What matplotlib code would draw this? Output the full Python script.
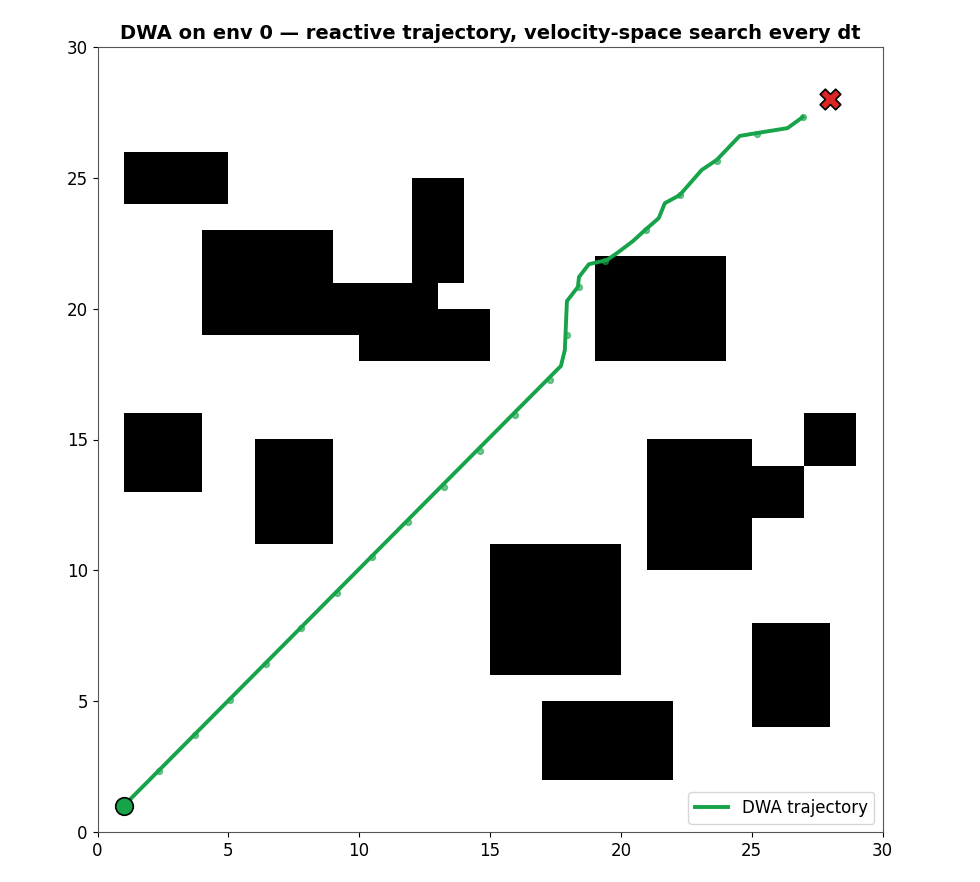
import matplotlib
matplotlib.use("Agg")
import matplotlib.pyplot as plt

GRID_SIZE = 30

# obstacles as (x, y, width, height) in grid cells
OBSTACLES = [
    (1, 24, 4, 2), (4, 19, 5, 4), (9, 19, 4, 2), (12, 21, 2, 4),
    (10, 18, 5, 2), (19, 18, 5, 4), (1, 13, 3, 3), (6, 11, 3, 4),
    (21, 10, 4, 5), (25, 12, 2, 2), (27, 14, 2, 2), (15, 6, 5, 5),
    (17, 2, 5, 3), (25, 4, 3, 4),
]

START = (1, 1)
GOAL = (28, 28)

path_x = [1.0, 17.71, 17.86, 17.94, 18.36, 18.40, 18.78, 19.47, 19.85, 20.46,
          20.92, 21.45, 21.68, 22.25, 23.09, 23.66, 24.54, 25.19, 26.37, 26.95]
path_y = [1.0, 17.81, 18.42, 20.29, 20.83, 21.21, 21.70, 21.86, 22.12, 22.58,
          23.00, 23.46, 24.03, 24.34, 25.30, 25.68, 26.60, 26.71, 26.90, 27.32]

sample_x = [2.35, 3.72, 5.07, 6.43, 7.79, 9.15, 10.5, 11.87, 13.23, 14.6, 15.96,
            17.3, 17.95, 18.4, 19.4, 20.95, 22.27, 23.68, 25.2, 26.95]
sample_y = [2.32, 3.7, 5.05, 6.41, 7.78, 9.12, 10.5, 11.85, 13.2, 14.55, 15.92,
            17.28, 19.0, 20.83, 21.83, 23.0, 24.33, 25.65, 26.68, 27.32]

fig = plt.figure(figsize=(9.8, 8.82), dpi=100)
ax = fig.add_axes([97 / 980, 1 - 832 / 882, 786 / 980, 785 / 882])

for (x, y, w, h) in OBSTACLES:
    ax.add_patch(plt.Rectangle((x, y), w, h, facecolor="black", edgecolor="none"))

green = "#16a34a"
ax.plot(path_x, path_y, color=green, linewidth=2.8, label="DWA trajectory", zorder=3)
ax.scatter(sample_x, sample_y, color=green, s=18, alpha=0.6, zorder=3)
ax.scatter(*START, s=160, color=green, edgecolors="black", linewidths=1.2, zorder=5)
ax.scatter(*GOAL, s=220, marker="X", color="#dc2626", edgecolors="black", linewidths=1.2, zorder=5)

ax.set_xlim(0, GRID_SIZE)
ax.set_ylim(0, GRID_SIZE)
ax.set_aspect("equal")
ax.set_xticks(range(0, 31, 5))
ax.set_yticks(range(0, 31, 5))
ax.tick_params(labelsize=12)
for s in ax.spines.values():
    s.set_color("#555555")
ax.set_title("DWA on env 0 \u2014 reactive trajectory, velocity-space search every dt",
             fontsize=14, fontweight="bold")
ax.legend(loc="lower right", fontsize=12)

fig.savefig("out.png")
